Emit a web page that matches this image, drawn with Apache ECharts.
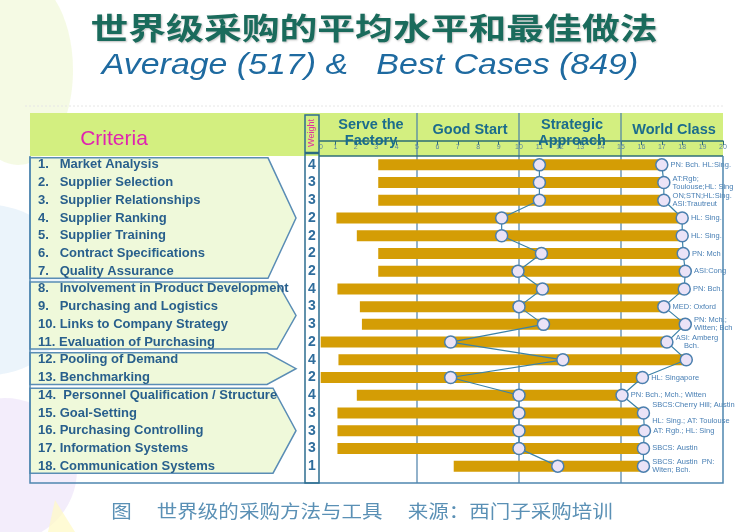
<!DOCTYPE html>
<html><head><meta charset="utf-8">
<script src="https://cdn.jsdelivr.net/npm/echarts@6/dist/echarts.min.js"></script>
<style>html,body{margin:0;padding:0;background:#fff}#c{width:750px;height:532px}</style>
</head><body><div id="c"></div>
<script>
// ---- data ----
const criteria = [
  '1.   Market Analysis', '2.   Supplier Selection', '3.   Supplier Relationships',
  '4.   Supplier Ranking', '5.   Supplier Training', '6.   Contract Specifications',
  '7.   Quality Assurance', '8.   Involvement in Product Development',
  '9.   Purchasing and Logistics', '10. Links to Company Strategy',
  '11. Evaluation of Purchasing', '12. Pooling of Demand', '13. Benchmarking',
  '14.  Personnel Qualification / Structure', '15. Goal-Setting',
  '16. Purchasing Controlling', '17. Information Systems', '18. Communication Systems'
];
const weights   = [4, 3, 3, 2, 2, 2, 2, 4, 3, 3, 2, 4, 2, 4, 3, 3, 3, 1];
const barStart  = [3.1, 3.1, 3.1, 1.05, 2.05, 3.1, 3.1, 1.1, 2.2, 2.3, 0.28, 1.15, 0.28, 2.05, 1.1, 1.1, 1.1, 6.8];
const avgScore  = [11.0, 11.0, 11.0, 9.15, 9.15, 11.1, 9.95, 11.15, 10.0, 11.2, 6.65, 12.15, 6.65, 10.0, 10.0, 10.0, 10.0, 11.9];
const bestScore = [17.0, 17.1, 17.1, 18.0, 18.0, 18.05, 18.15, 18.1, 17.1, 18.15, 17.25, 18.2, 16.05, 15.05, 16.1, 16.15, 16.1, 16.1];
const bestNotes = [
  'PN: Bch. HL:Sing.', 'AT:Rgb;\nToulouse;HL: Sing', 'ON;STN;HL:Sing.\nASI:Trautreut',
  'HL: Sing.', 'HL: Sing.', 'PN: Mch', 'ASI:Cong', 'PN: Bch.', 'MED: Oxford',
  'PN: Mch.;\nWitten; Bch', 'ASI: Amberg\n    Bch.', '', 'HL: Singapore',
  'PN: Bch.; Mch.; Witten', 'SBCS:Cherry Hill; Austin\n\nHL: Sing.; AT: Toulouse',
  'AT: Rgb.; HL: Sing', 'SBCS: Austin', 'SBCS: Austin  PN:\nWiten; Bch.'
];
const sectionTitles = ['Serve the\nFactory', 'Good Start', 'Strategic\nApproach', 'World Class'];
const sectionBounds = [0, 5, 10, 15, 20];
const groups = [[0, 6], [7, 10], [11, 12], [13, 17]];
const titleText = '世界级采购的平均水平和最佳做法';
const subtitleText = 'Average (517) &   Best Cases (849)';
const captionText = '图　 世界级的采购方法与工具　 来源：西门子采购培训';

// ---- chart ----
const F = '"Liberation Sans", Arial, sans-serif';
const chart = echarts.init(document.getElementById('c'), null, {renderer: 'canvas'});
const dotStyle = {color: '#ebe3f7', borderColor: '#4a7fae', borderWidth: 1.5};
const option = {
  animation: false,
  backgroundColor: '#ffffff',
  grid: {left: 315, right: 27, top: 156, bottom: 57},
  xAxis: {
    type: 'value', min: 0, max: 20, interval: 1, position: 'top', offset: 15,
    axisLine: {show: true, lineStyle: {color: '#2c6e74', width: 1.5}},
    axisTick: {show: true, inside: true, length: 4, lineStyle: {color: '#2c6e74'}},
    axisLabel: {inside: true, margin: 3, fontSize: 7, color: '#5b86a3', fontFamily: F,
      formatter: v => v === 0 ? '      0' : String(v)},
    splitLine: {show: false}
  },
  yAxis: [
    {type: 'category', data: criteria, inverse: true, position: 'left',
     axisLine: {show: false}, axisTick: {show: false}, splitLine: {show: false},
     axisLabel: {interval: 0, align: 'left', margin: 277, fontSize: 13, fontWeight: 'bold',
       color: '#285f8c', fontFamily: F}},
    {type: 'category', data: weights.map(String), inverse: true, position: 'left',
     axisLine: {show: false}, axisTick: {show: false}, splitLine: {show: false},
     axisLabel: {interval: 0, align: 'center', margin: 3, fontSize: 14, fontWeight: 'bold',
       color: '#2f6d9c', fontFamily: F}}
  ],
  series: [
    {type: 'bar', stack: 'r', data: barStart, barWidth: 11, silent: true,
     itemStyle: {color: 'rgba(0,0,0,0)'}},
    {type: 'bar', stack: 'r', barWidth: 11,
     data: bestScore.map((v, i) => +(v - barStart[i]).toFixed(2)),
     itemStyle: {color: '#d49d05'}},
    {type: 'line', data: avgScore.map((v, i) => [v, i]), symbol: 'circle', symbolSize: 12,
     itemStyle: dotStyle, lineStyle: {color: '#3b82a8', width: 1.2}, z: 4},
    {type: 'line', data: bestScore.map((v, i) => [v, i]), symbol: 'circle', symbolSize: 12,
     itemStyle: dotStyle, lineStyle: {color: '#3b82a8', width: 1.2}, z: 4,
     label: {show: true, position: 'right', distance: 2, fontSize: 7.5, lineHeight: 8,
       color: '#4a80b5', fontFamily: F, formatter: p => bestNotes[p.dataIndex]}}
  ]
};
chart.setOption(option);

// ---- decorations positioned from the library's scales ----
const px = v => chart.convertToPixel({xAxisIndex: 0}, v);
const py = i => chart.convertToPixel({yAxisIndex: 0}, i);
const frameL = 30, frameR = px(20), frameT = 113, frameB = 483, bandB = 156;
const g = [];
// soft background shapes
g.push({type: 'ellipse', shape: {cx: 18, cy: 70, rx: 55, ry: 95}, style: {fill: 'rgba(232,245,195,0.45)'}, z: -100});
g.push({type: 'circle', shape: {cx: -10, cy: 290, r: 85}, style: {fill: 'rgba(210,231,247,0.45)'}, z: -100});
g.push({type: 'circle', shape: {cx: 5, cy: 470, r: 72}, style: {fill: 'rgba(234,222,247,0.55)'}, z: -100});
g.push({type: 'polygon', shape: {points: [[55, 500], [75, 532], [48, 532]]}, style: {fill: 'rgba(255,250,195,0.7)'}, z: -100});
g.push({type: 'line', shape: {x1: 25, y1: 106, x2: 725, y2: 106}, style: {stroke: '#e6e6e6', lineWidth: 1, lineDash: [2, 2]}, z: -90});
// header band
g.push({type: 'rect', shape: {x: frameL, y: frameT, width: frameR - frameL, height: bandB - frameT}, style: {fill: '#d3ef80'}, z: -50});
g.push({type: 'line', shape: {x1: 319, y1: bandB, x2: frameR, y2: bandB}, style: {stroke: '#2e6e78', lineWidth: 1.5}, z: 3});
// criteria pentagons
const corners = [268, 277, 267, 273];
groups.forEach((gr, k) => {
  const t = py(gr[0]) - 7, b = py(gr[1]) + 7, m = (t + b) / 2;
  g.push({type: 'polygon', shape: {points: [[frameL, t], [corners[k], t], [296, m], [corners[k], b], [frameL, b]]},
    style: {fill: '#eff9da', stroke: '#5a8db5', lineWidth: 1.5}, z: -40});
});
// frame
g.push({type: 'polyline', shape: {points: [[frameL, bandB], [frameL, frameB], [frameR, frameB], [frameR, bandB]]},
  style: {stroke: '#4f86b0', lineWidth: 1.5, fill: null}, z: 5});
// section dividers
[5, 10, 15].forEach(v => {
  g.push({type: 'line', shape: {x1: px(v), y1: frameT, x2: px(v), y2: frameB}, style: {stroke: '#4a7fa8', lineWidth: 1.2}, z: 1});
});
// section titles
sectionTitles.forEach((s, k) => {
  const cx = (px(sectionBounds[k]) + px(sectionBounds[k + 1])) / 2 + (k === 0 ? 5 : 2);
  g.push({type: 'text', x: cx, y: s.indexOf('\n') >= 0 ? 133 : 130, z: 12,
    style: {text: s, align: 'center', verticalAlign: 'middle', fontSize: 14.5, fontWeight: 'bold',
      lineHeight: 16.5, fill: '#1b6c8c', fontFamily: F}});
});
// weight column
g.push({type: 'rect', shape: {x: 305, y: frameT + 2, width: 14, height: 38}, style: {fill: '#d3ef80'}, z: 9});
g.push({type: 'rect', shape: {x: 305, y: frameT + 2, width: 14, height: frameB - frameT - 2}, style: {fill: null, stroke: '#2e6e90', lineWidth: 1.5}, z: 10});
g.push({type: 'line', shape: {x1: 305, y1: 153, x2: 319, y2: 153}, style: {stroke: '#2a6b80', lineWidth: 2.5}, z: 10});
g.push({type: 'text', x: 312, y: 133, rotation: Math.PI / 2, z: 11,
  style: {text: 'Weight', align: 'center', verticalAlign: 'middle', fontSize: 9, fill: '#e0309e', fontFamily: F}});
g.push({type: 'text', x: 114, y: 139, z: 11,
  style: {text: 'Criteria', align: 'center', verticalAlign: 'middle', fontSize: 21, fill: '#e023b0', fontFamily: F}});
// titles
g.push({type: 'text', x: 374, y: 28, scaleX: 1.26, z: 20,
  style: {text: titleText, align: 'center', verticalAlign: 'middle', fontSize: 30, fontWeight: 'bold',
    fill: '#1a6b5c', fontFamily: '"Noto Sans CJK SC", sans-serif',
    textShadowColor: 'rgba(0,0,0,0.25)', textShadowBlur: 2, textShadowOffsetX: 1, textShadowOffsetY: 1}});
g.push({type: 'text', x: 370, y: 66, scaleX: 1.13, z: 20,
  style: {text: subtitleText, align: 'center', verticalAlign: 'middle', fontSize: 30, fontStyle: 'italic',
    fill: '#1e6aa0', fontFamily: F}});
g.push({type: 'text', x: 362, y: 511, scaleX: 1.14, z: 20,
  style: {text: captionText, align: 'center', verticalAlign: 'middle', fontSize: 18,
    fill: '#5a90b5', fontFamily: '"Noto Sans CJK SC", sans-serif'}});
chart.setOption({graphic: {elements: g}});
</script></body></html>
